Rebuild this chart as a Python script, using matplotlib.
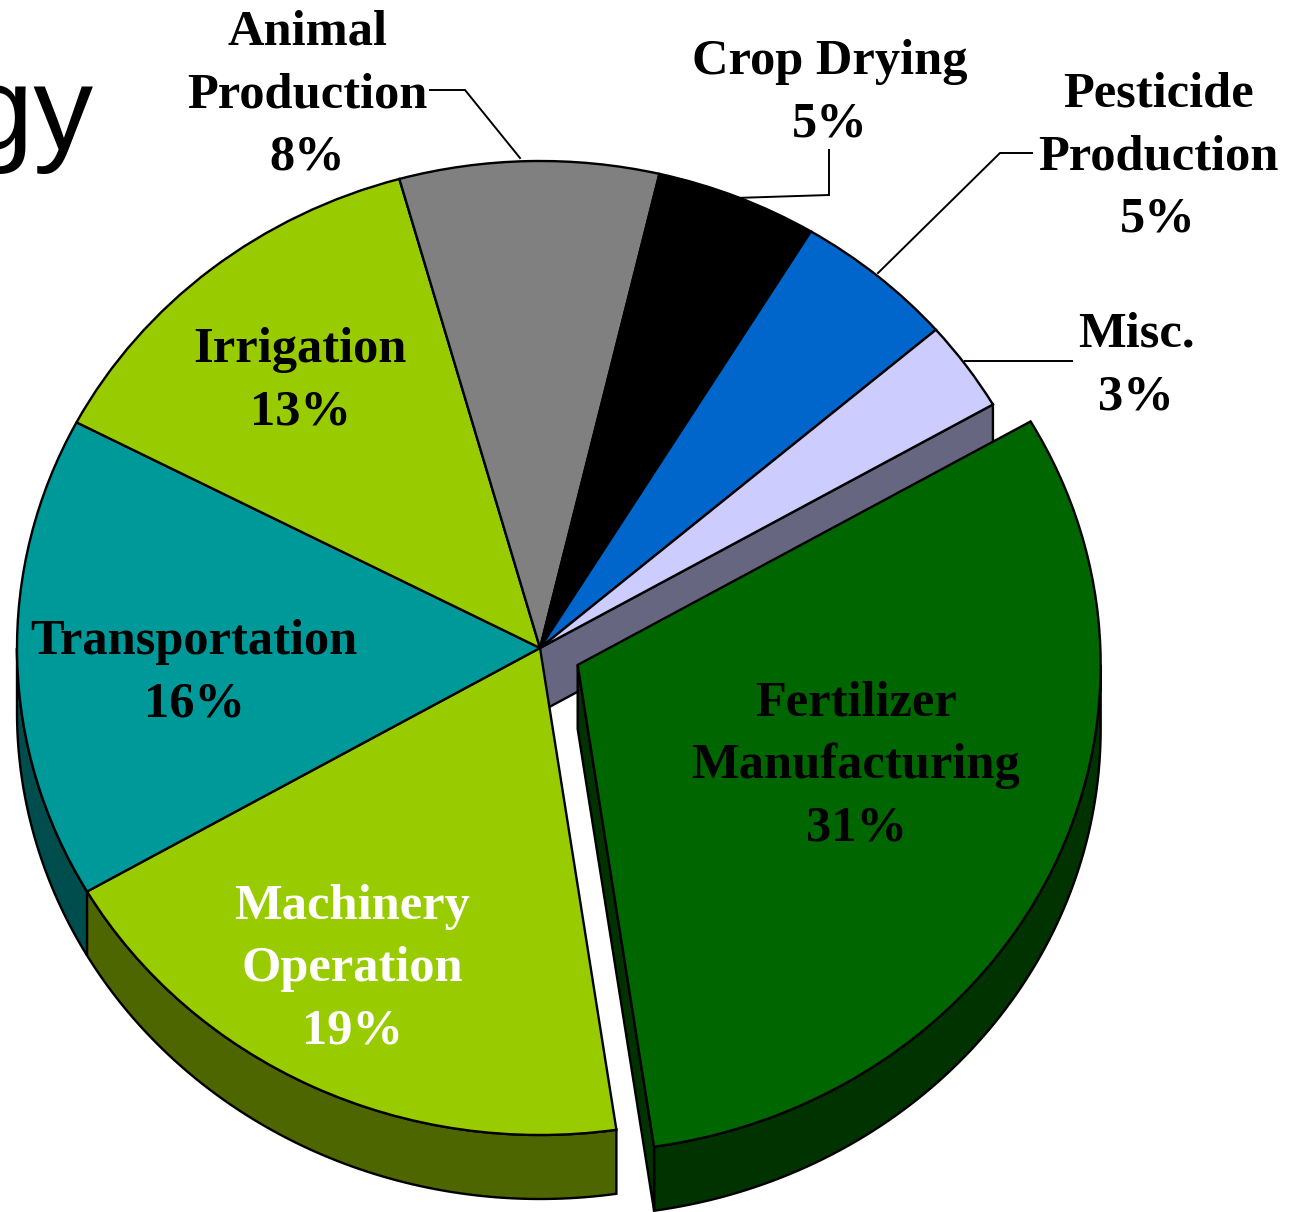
import numpy as np
import matplotlib
matplotlib.use("Agg")
import matplotlib.pyplot as plt
from matplotlib.patches import Polygon

names = ["Fertilizer\nManufacturing", "Machinery\nOperation", "Transportation", "Irrigation",
         "Animal\nProduction", "Crop Drying", "Pesticide\nProduction", "Misc."]
values = [31, 19, 16, 13, 8, 5, 5, 3]
colors = ["#006600", "#99CC00", "#009999", "#99CC00", "#808080", "#000000", "#0066CC", "#CCCCFF"]
explode = [0.08, 0, 0, 0, 0, 0, 0, 0]
text_colors = ["black", "white", "black", "black", "black", "black", "black", "black"]
label_px = [(856, 766), (352, 969), (194, 673), (300, 381), (307, 95), (830, 93), (1158, 157), (1136, 366)]

W, H = 1297, 1212
CX, CY, RX, RY = 540, 648, 523, 487
DEPTH = 64 / RY
START = 30
LW = 1.7

fig = plt.figure(figsize=(W / 100, H / 100), dpi=100, facecolor="white")
ax = fig.add_axes([0, 0, 1, 1])

wedges, _ = ax.pie(values, explode=explode, colors=colors, startangle=START, counterclock=False,
                   radius=1, wedgeprops=dict(edgecolor="black", linewidth=LW, zorder=3))
ax.set_aspect("auto")
ax.set_xlim(-CX / RX, (W - CX) / RX)
ax.set_ylim((CY - H) / RY, CY / RY)
ax.axis("off")

bounds = START - 360 * np.cumsum([0] + values) / sum(values)


def px(x, y):
    return (x - CX) / RX, (CY - y) / RY


def side(a0, a1, color, offset=(0, 0), z=2):
    t = np.radians(np.linspace(a0, a1, 80))
    x = offset[0] + np.cos(t)
    y = offset[1] + np.sin(t)
    pts = np.r_[np.c_[x, y], np.c_[x, y - DEPTH][::-1]]
    ax.add_patch(Polygon(pts, closed=True, facecolor=color, edgecolor="black", linewidth=LW, zorder=z))


# inner wall left by the exploded slice
edge = np.radians(START)
ex, ey = np.cos(edge), np.sin(edge)
ax.add_patch(Polygon([(0, 0), (ex, ey), (ex, ey - DEPTH), (0, -DEPTH)], closed=True,
                     facecolor="#666680", edgecolor="black", linewidth=LW, zorder=1))

# outer walls
side(-180, bounds[2], "#004D4D", z=2)
side(bounds[2], bounds[1], "#4D6600", z=2.1)

# exploded slice walls
mid = np.radians((bounds[0] + bounds[1]) / 2)
off = (explode[0] * np.cos(mid), explode[0] * np.sin(mid))
side(bounds[1], 0, "#003300", offset=off, z=2.2)
e1 = np.radians(bounds[1])
p = (off[0] + np.cos(e1), off[1] + np.sin(e1))
ax.add_patch(Polygon([off, p, (p[0], p[1] - DEPTH), (off[0], off[1] - DEPTH)], closed=True,
                     facecolor="#003300", edgecolor="black", linewidth=LW, zorder=2.3))

# leader lines
leaders = [
    [(430, 90), (465, 90), (520, 158)],
    [(829, 150), (829, 195), (735, 198)],
    [(1032, 153), (1000, 153), (878, 273)],
    [(1072, 361), (965, 361)],
]
for line in leaders:
    xy = np.array([px(*q) for q in line])
    ax.plot(xy[:, 0], xy[:, 1], color="black", lw=1.4, zorder=2, solid_joinstyle="miter")

# labels
for name, val, (lx, ly), c in zip(names, values, label_px, text_colors):
    x, y = px(lx, ly)
    ax.text(x, y, f"{name}\n{val}%", ha="center", va="center", color=c, fontsize=36.4,
            family="Liberation Serif", fontweight="bold", linespacing=1.47, zorder=5)

# clipped title fragment
fig.text(93 / W, 1 - 149 / H, "gy", ha="right", va="baseline", fontsize=86,
         family="Liberation Sans", color="black")

fig.savefig("out.png", dpi=100)
